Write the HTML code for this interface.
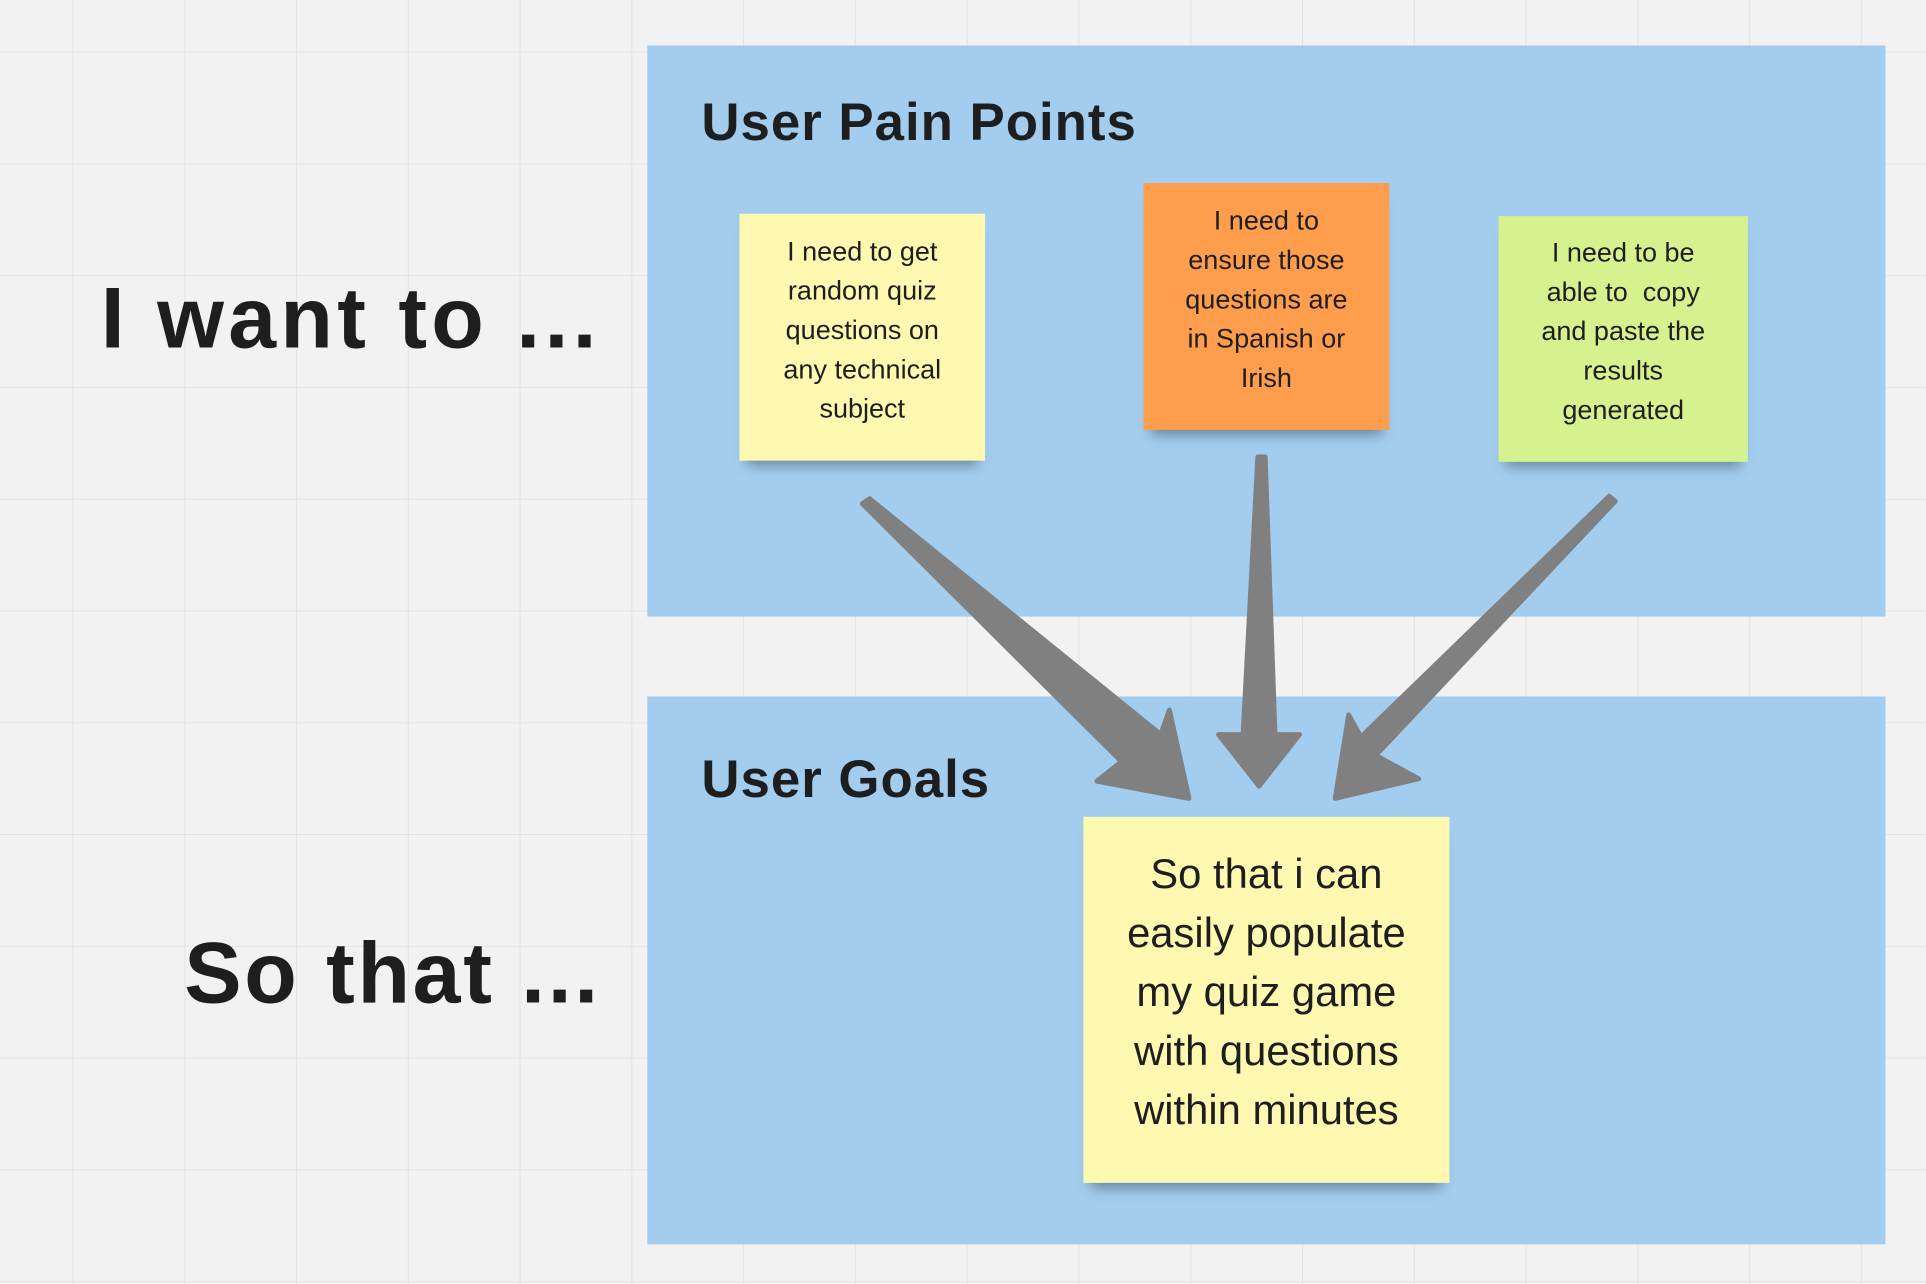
<!DOCTYPE html>
<html><head><meta charset="utf-8"><style>
html,body{margin:0;padding:0;width:1926px;height:1284px;overflow:hidden;background:#f2f2f2;}
#w{position:absolute;left:0;top:0;width:1568px;height:1045px;transform:scale(1.22832);transform-origin:0 0;
background-color:#f2f2f2;
background-image:linear-gradient(#e4e4e4 1px,transparent 1px),linear-gradient(90deg,#e4e4e4 1px,transparent 1px);
background-size:91px 91px;background-position:59px 42px;font-family:"Liberation Sans",sans-serif;color:#1e1e1e;}
.p{position:absolute;background:#a3cdef;}
.s{position:absolute;display:flex;align-items:center;justify-content:center;text-align:center;box-shadow:0 10px 10px -6px rgba(0,0,0,.35);white-space:nowrap;box-sizing:border-box;padding-bottom:12px;}
.t{position:absolute;font-weight:bold;white-space:nowrap;}
</style></head><body><div id="w">
<div class="p" style="left:527px;top:37px;width:1008px;height:465px"></div>
<div class="p" style="left:527px;top:567px;width:1008px;height:446px"></div>
<div class="t" style="left:82px;top:219px;font-size:70px;letter-spacing:3.5px">I want to ...</div>
<div class="t" style="left:150px;top:752px;font-size:70px;letter-spacing:2.2px">So that ...</div>
<div class="t" style="left:571px;top:76px;font-size:43px;letter-spacing:0.8px">User Pain Points</div>
<div class="t" style="left:571px;top:611px;font-size:43px;letter-spacing:0.8px">User Goals</div>
<div class="s" style="left:602px;top:174px;width:200px;height:201px;background:#fef8b0;font-size:22px;line-height:32px">I need to get<br>random quiz<br>questions on<br>any technical<br>subject</div>
<div class="s" style="left:931px;top:149px;width:200px;height:201px;background:#fe9d4c;font-size:22px;line-height:32px">I need to<br>ensure those<br>questions are<br>in Spanish or<br>Irish</div>
<div class="s" style="left:1220px;top:176px;width:203px;height:200px;background:#d6f28f;font-size:22px;line-height:32px">I need to be<br>able to&nbsp; copy<br>and paste the<br>results<br>generated</div>
<div class="s" style="left:882px;top:665px;width:298px;height:298px;background:#fef8b0;font-size:34px;line-height:48px">So that i can<br>easily populate<br>my quiz game<br>with questions<br>within minutes</div>
<svg style="position:absolute;left:0;top:0" width="1568" height="1045">
<g fill="#808080" stroke="#808080" stroke-width="4" stroke-linejoin="round">
<polygon points="702,410 708,406 945,598 952,578 968,650 893,636 913,620"/>
<polygon points="1024,372 1030,372 1038,598 1058,598 1025,640 992,598 1012,598"/>
<polygon points="1310,404 1315,408 1120,615 1155,634 1087,650 1098,582 1108,600"/>
</g></svg>
</div></body></html>
